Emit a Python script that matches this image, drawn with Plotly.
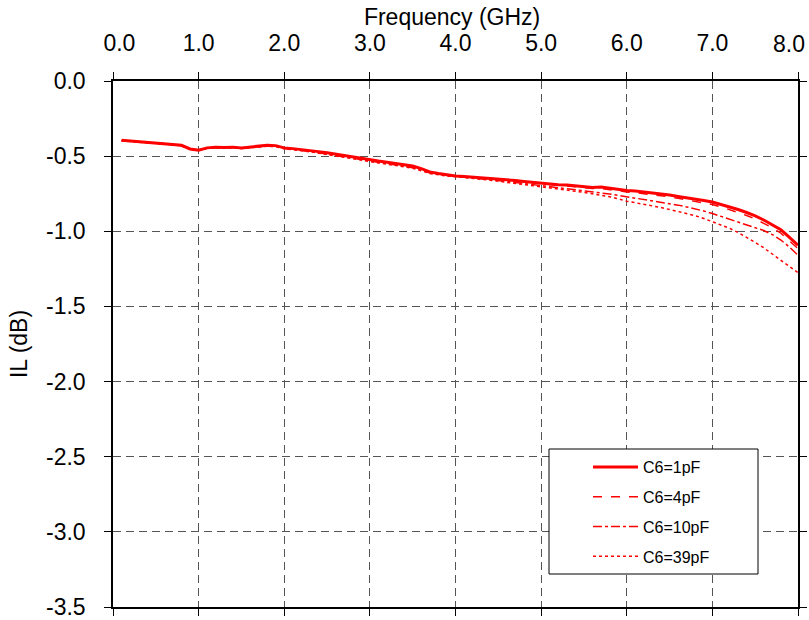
import plotly.graph_objects as go

freq = [round(0.1 * i, 1) for i in range(1, 81)]

il_1pF = [
    -0.395, -0.400, -0.405, -0.408, -0.412, -0.418, -0.420, -0.428, -0.452, -0.460,
    -0.445, -0.440, -0.442, -0.440, -0.445, -0.438, -0.432, -0.428, -0.430, -0.445,
    -0.450, -0.455, -0.462, -0.470, -0.478, -0.488, -0.498, -0.505, -0.515, -0.525,
    -0.533, -0.540, -0.548, -0.556, -0.566, -0.583, -0.605, -0.615, -0.625, -0.632,
    -0.636, -0.640, -0.643, -0.646, -0.652, -0.657, -0.662, -0.668, -0.674, -0.680,
    -0.685, -0.690, -0.692, -0.697, -0.702, -0.708, -0.706, -0.715, -0.722, -0.728,
    -0.732, -0.738, -0.745, -0.750, -0.758, -0.768, -0.776, -0.785, -0.795, -0.805,
    -0.820, -0.837, -0.855, -0.875, -0.897, -0.925, -0.955, -0.990, -1.040, -1.093,
]
il_4pF = [
    -0.397, -0.401, -0.404, -0.409, -0.414, -0.417, -0.421, -0.430, -0.454, -0.458,
    -0.447, -0.442, -0.441, -0.443, -0.446, -0.440, -0.435, -0.431, -0.433, -0.447,
    -0.453, -0.458, -0.466, -0.474, -0.483, -0.492, -0.502, -0.510, -0.519, -0.529,
    -0.537, -0.545, -0.553, -0.561, -0.572, -0.588, -0.608, -0.618, -0.627, -0.633,
    -0.638, -0.642, -0.646, -0.650, -0.656, -0.661, -0.667, -0.673, -0.679, -0.686,
    -0.691, -0.696, -0.699, -0.704, -0.710, -0.716, -0.715, -0.724, -0.732, -0.738,
    -0.743, -0.749, -0.756, -0.762, -0.771, -0.781, -0.790, -0.800, -0.811, -0.822,
    -0.837, -0.855, -0.874, -0.895, -0.918, -0.946, -0.977, -1.013, -1.062, -1.115,
]
il_10pF = [
    -0.396, -0.402, -0.406, -0.410, -0.413, -0.419, -0.422, -0.431, -0.453, -0.459,
    -0.446, -0.443, -0.444, -0.442, -0.447, -0.441, -0.436, -0.433, -0.435, -0.449,
    -0.455, -0.461, -0.469, -0.478, -0.487, -0.497, -0.507, -0.515, -0.524, -0.534,
    -0.542, -0.550, -0.558, -0.566, -0.577, -0.593, -0.612, -0.621, -0.630, -0.634,
    -0.639, -0.644, -0.649, -0.655, -0.662, -0.668, -0.675, -0.682, -0.690, -0.697,
    -0.703, -0.710, -0.715, -0.722, -0.729, -0.737, -0.742, -0.752, -0.761, -0.770,
    -0.778, -0.787, -0.797, -0.806, -0.815, -0.826, -0.838, -0.850, -0.865, -0.882,
    -0.901, -0.920, -0.940, -0.958, -0.975, -0.995, -1.022, -1.058, -1.105, -1.160,
]
il_39pF = [
    -0.398, -0.403, -0.407, -0.411, -0.415, -0.420, -0.423, -0.432, -0.455, -0.461,
    -0.448, -0.444, -0.445, -0.444, -0.449, -0.443, -0.438, -0.435, -0.437, -0.451,
    -0.457, -0.463, -0.471, -0.480, -0.490, -0.500, -0.510, -0.518, -0.527, -0.537,
    -0.545, -0.553, -0.561, -0.570, -0.581, -0.597, -0.615, -0.624, -0.633, -0.636,
    -0.641, -0.647, -0.653, -0.660, -0.667, -0.674, -0.682, -0.690, -0.698, -0.706,
    -0.713, -0.720, -0.726, -0.733, -0.741, -0.751, -0.758, -0.770, -0.784, -0.800,
    -0.810, -0.820, -0.831, -0.842, -0.855, -0.868, -0.882, -0.896, -0.915, -0.936,
    -0.956, -0.980, -1.008, -1.040, -1.074, -1.110, -1.150, -1.190, -1.232, -1.275,
]

series_names = ["C6=1pF", "C6=4pF", "C6=10pF", "C6=39pF"]
series_values = [il_1pF, il_4pF, il_10pF, il_39pF]
series_dash = ["solid", "dash", "dashdot", "dot"]
series_width = [3, 1.5, 1.5, 1.5]

x_title = "Frequency (GHz)"
y_title = "IL (dB)"
x_ticks = [0, 1, 2, 3, 4, 5, 6, 7, 8]
x_ticktext = ["&nbsp;&nbsp;0.0", "1.0", "2.0", "3.0", "4.0", "5.0", "6.0", "7.0", ""]
x_last_tick = [8]
x_last_ticktext = ["8.0"]
y_ticks = [0, -0.5, -1.0, -1.5, -2.0, -2.5, -3.0, -3.5]
y_ticktext = ["0.0", "-0.5", "-1.0", "-1.5", "-2.0", "-2.5", "-3.0", "-3.5"]

fig = go.Figure()
for name, vals, dash, w in zip(series_names, series_values, series_dash, series_width):
    fig.add_trace(go.Scatter(
        x=freq, y=vals, mode="lines", name=name, legendgroup=name,
        line=dict(color="#FF0000", dash=dash, width=w),
    ))

# invisible copy on the overlay axis so that it gets drawn
fig.add_trace(go.Scatter(
    x=freq, y=il_1pF, mode="lines", xaxis="x2", yaxis="y",
    line=dict(color="rgba(0,0,0,0)", width=0), showlegend=False, hoverinfo="skip",
))

font = "Liberation Sans, Arial, sans-serif"
tickfont = dict(size=23, color="black", family=font)
axis_common = dict(
    showline=True, linecolor="black", linewidth=1.5, mirror="allticks",
    ticks="outside", ticklen=7, tickcolor="black", tickwidth=1,
    showgrid=True, gridcolor="#555555", griddash="8px,5px", gridwidth=1,
    zeroline=False, tickfont=tickfont,
    automargin=False, ticklabeloverflow="allow",
)

fig.update_xaxes(selector=dict(), overwrite=False)
fig.update_layout(xaxis=dict(range=[0, 8], tickvals=x_ticks, ticktext=x_ticktext, side="top",
                             ticklabelstandoff=12, **axis_common))
fig.update_yaxes(range=[-3.5, 0], tickvals=y_ticks, ticktext=y_ticktext,
                 ticklabelstandoff=14,
                 title=dict(text=y_title, font=dict(size=23, family=font, color="black"), standoff=12),
                 **axis_common)

# overlay axis carrying only the last x label, nudged inside the figure
fig.update_layout(xaxis2=dict(
    overlaying="x", anchor="y", side="top", range=[0, 8],
    tickvals=x_last_tick, ticktext=x_last_ticktext, tickfont=tickfont,
    ticks="outside", ticklen=7, tickcolor="rgba(0,0,0,0)",
    showline=False, showgrid=False, zeroline=False, automargin=False,
    ticklabelstandoff=12, ticklabelshift=-9, ticklabeloverflow="allow",
))

# legend frame
fig.add_shape(type="rect", xref="paper", yref="paper",
              x0=(549 - 113) / 685, x1=(758 - 113) / 685,
              y0=(607 - 574) / 526, y1=(607 - 449) / 526,
              line=dict(color="black", width=1), fillcolor="white", layer="above")

fig.update_layout(
    width=809, height=620,
    margin=dict(l=113, r=11, t=81, b=13),
    paper_bgcolor="white", plot_bgcolor="white",
    font=dict(family=font, color="black"),
    title=dict(text=x_title, font=dict(size=23, family=font, color="black"),
               x=0.495, xref="paper", xanchor="center",
               y=1 - 17 / 620, yref="container", yanchor="middle"),
    legend=dict(
        x=(588 - 113) / 685, y=(607 - 450) / 526, xanchor="left", yanchor="top",
        bgcolor="rgba(0,0,0,0)", borderwidth=0,
        font=dict(size=16, family=font, color="black"),
        traceorder="grouped", tracegroupgap=6, itemwidth=45,
    ),
)

fig.write_html("out.html")
